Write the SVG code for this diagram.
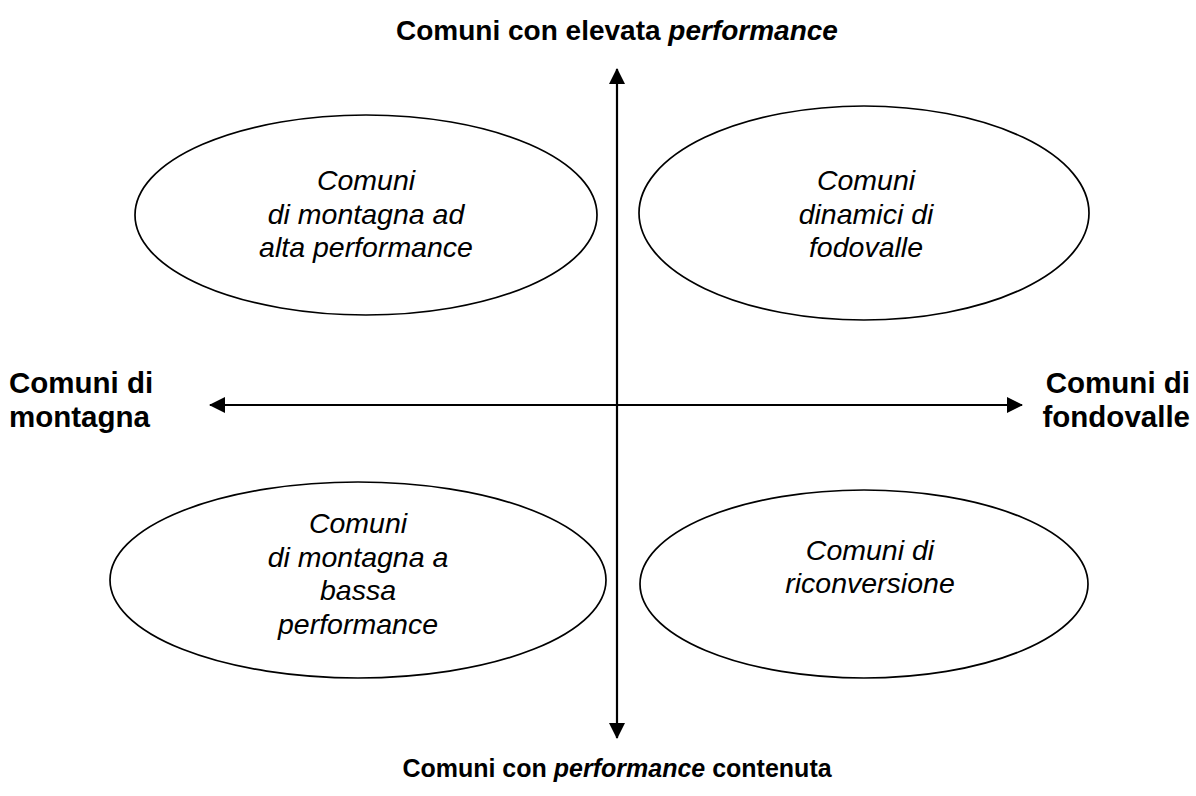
<svg xmlns="http://www.w3.org/2000/svg" width="1196" height="796" viewBox="0 0 1196 796">
<style>
.bg{fill:#ffffff}
.ell{fill:none;stroke:#000;stroke-width:1.7}
.it{font-family:"Liberation Sans",Arial,sans-serif;font-size:28.5px;font-style:italic;fill:#000;text-anchor:middle}
.bd{font-family:"Liberation Sans",Arial,sans-serif;font-size:28px;font-weight:bold;fill:#000}
.side{font-size:29.5px}
.small{font-size:25px}
.ax{stroke:#000;stroke-width:2.2;fill:none}
</style>
<defs>
<marker id="ah" viewBox="0 0 16 16" refX="15" refY="8" markerWidth="16" markerHeight="16" markerUnits="userSpaceOnUse" orient="auto-start-reverse">
<path d="M0,0 L16,8 L0,16 Z" fill="#000"/>
</marker>
</defs>
<rect class="bg" x="0" y="0" width="1196" height="796"/>
<g id="connectors">
<line class="ax" x1="617" y1="69" x2="617" y2="738" marker-start="url(#ah)" marker-end="url(#ah)"/>
<line class="ax" x1="210" y1="405" x2="1022" y2="405" marker-start="url(#ah)" marker-end="url(#ah)"/>
</g>
<g id="axis-top">
<text class="bd" x="617" y="40" text-anchor="middle">Comuni con elevata <tspan font-style="italic">performance</tspan></text>
</g>
<g id="axis-bottom">
<text class="bd small" x="617" y="777" text-anchor="middle">Comuni con <tspan font-style="italic">performance</tspan> contenuta</text>
</g>
<g id="axis-left">
<text class="bd side" x="9" y="393">Comuni di</text>
<text class="bd side" x="9" y="427">montagna</text>
</g>
<g id="axis-right">
<text class="bd side" x="1190" y="393" text-anchor="end">Comuni di</text>
<text class="bd side" x="1190" y="427" text-anchor="end">fondovalle</text>
</g>
<g id="node-tl">
<ellipse class="ell" cx="366" cy="215" rx="231" ry="100"/>
<text class="it" x="366" y="190">Comuni</text>
<text class="it" x="366" y="224">di montagna ad</text>
<text class="it" x="366" y="257">alta performance</text>
</g>
<g id="node-tr">
<ellipse class="ell" cx="864" cy="213" rx="225" ry="107"/>
<text class="it" x="866" y="190">Comuni</text>
<text class="it" x="866" y="224">dinamici di</text>
<text class="it" x="866" y="257">fodovalle</text>
</g>
<g id="node-bl">
<ellipse class="ell" cx="358" cy="580" rx="248" ry="98"/>
<text class="it" x="358" y="533">Comuni</text>
<text class="it" x="358" y="567">di montagna a</text>
<text class="it" x="358" y="600">bassa</text>
<text class="it" x="358" y="634">performance</text>
</g>
<g id="node-br">
<ellipse class="ell" cx="864" cy="584" rx="224" ry="94"/>
<text class="it" x="870" y="560">Comuni di</text>
<text class="it" x="870" y="593">riconversione</text>
</g>
</svg>
